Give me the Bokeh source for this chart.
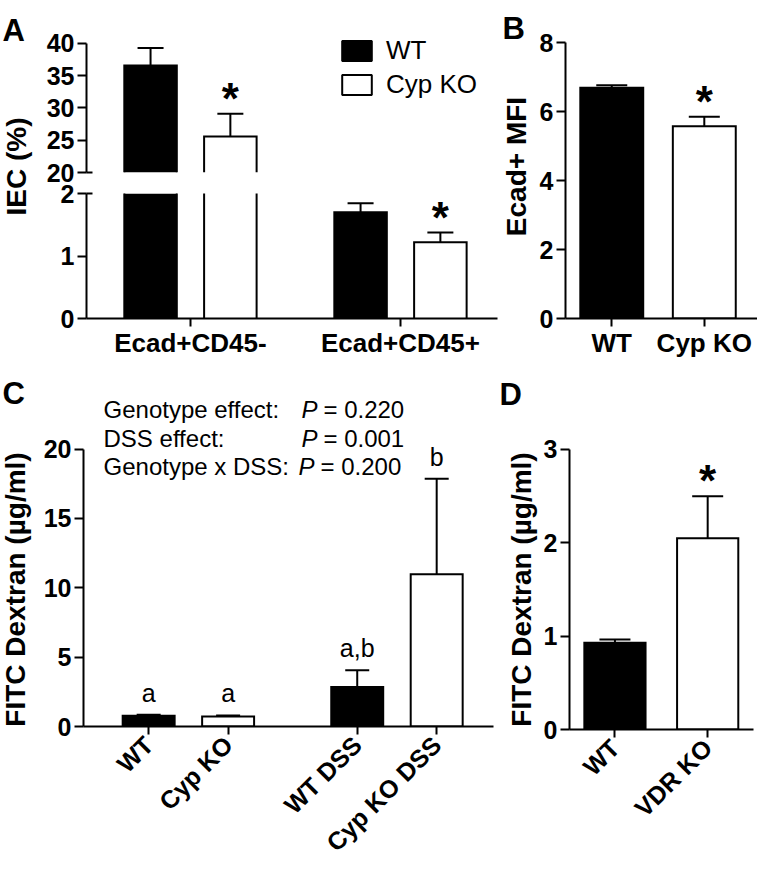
import math
from bokeh.plotting import figure
from bokeh.layouts import row, column
from bokeh.models import (ColumnDataSource, Range1d, FixedTicker, Whisker, TeeHead,
                          Label, LabelSet, Legend, LegendItem)
from bokeh.core.properties import value
from bokeh.embed import file_html
from bokeh.resources import INLINE

FONT = "Liberation Sans"

# ---------------- data ----------------
a_groups = ["Ecad+CD45-", "Ecad+CD45+"]
a_wt_mean = [36.6, 1.70]
a_wt_sem = [2.7, 0.145]
a_ko_mean = [25.6, 1.22]
a_ko_sem = [3.5, 0.155]
a_ko_sig = ["*", "*"]
a_series = ["WT", "Cyp KO"]

b_groups = ["WT", "Cyp KO"]
b_mean = [6.69, 5.57]
b_sem = [0.07, 0.28]
b_sig = ["", "*"]

c_groups = ["WT", "Cyp KO", "WT DSS", "Cyp KO DSS"]
c_mean = [0.77, 0.72, 2.84, 10.97]
c_sem = [0.08, 0.08, 1.21, 6.89]
c_letters = ["a", "a", "a,b", "b"]
c_stats_names = ["Genotype effect:", "DSS effect:", "Genotype x DSS:"]
c_stats_p = ["= 0.220", "= 0.001", "= 0.200"]

d_groups = ["WT", "VDR KO"]
d_mean = [0.93, 2.05]
d_sem = [0.035, 0.45]
d_sig = ["", "*"]

y_label_a = "IEC (%)"
y_label_b = "Ecad+ MFI"
y_label_cd = "FITC Dextran (\u00b5g/ml)"

# ---------------- layout constants ----------------
A_POS = [1, 2]
A_DODGE = 0.19
A_BAR_W = 0.25
B_POS = [1, 2]
B_BAR_W = 0.68
C_POS = [1, 2, 3.625, 4.625]
C_BAR_W = 0.654
D_POS = [1, 2]
D_BAR_W = 0.66


def hi(means, sems):
    return [m + s for m, s in zip(means, sems)]


def base_fig(width, height, x_range, y_range, left, right, top, bottom,
             x_axis=True, y_axis=True):
    p = figure(width=width, height=height, x_range=x_range, y_range=y_range,
               output_backend="svg", toolbar_location=None,
               x_axis_location="below" if x_axis else None,
               y_axis_location="left" if y_axis else None,
               min_border_left=left, min_border_right=right,
               min_border_top=top, min_border_bottom=bottom)
    p.outline_line_color = None
    p.grid.visible = False
    p.background_fill_color = "white"
    p.border_fill_color = "white"
    for ax in p.axis:
        ax.axis_line_width = 2
        ax.axis_line_color = "black"
        ax.major_tick_line_width = 2
        ax.major_tick_line_color = "black"
        ax.major_tick_in = 0
        ax.minor_tick_line_color = None
        ax.major_label_text_font = FONT
        ax.major_label_text_font_style = "bold"
        ax.major_label_text_color = "black"
    return p


def lab_fig(width, height):
    """Figure whose frame is the whole canvas: data units are pixels from bottom-left."""
    p = figure(width=width, height=height, x_range=Range1d(0, width),
               y_range=Range1d(0, height), output_backend="svg", title=None,
               toolbar_location=None, x_axis_location=None, y_axis_location=None,
               min_border=0)
    p.outline_line_color = None
    p.grid.visible = False
    p.background_fill_color = "white"
    p.border_fill_color = "white"
    return p


def text_at(p, x, y, text, size, style="bold", angle=0.0, align="left"):
    p.add_layout(Label(x=x, y=y, text=text, angle=angle, text_font=FONT,
                       text_font_size=size, text_font_style=style, text_color="black",
                       text_align=align, text_baseline="alphabetic"))


def style_y(p, ticks, bounds, break_at=None):
    ax = p.yaxis[0]
    ax.ticker = FixedTicker(ticks=ticks, minor_ticks=[break_at] if break_at is not None else [])
    ax.bounds = bounds
    ax.major_tick_out = 9
    ax.major_label_standoff = 3
    ax.major_label_text_font_size = "25px"
    if break_at is not None:
        # axis-break mark: the tick at the break crosses the axis line
        ax.minor_tick_line_color = "black"
        ax.minor_tick_line_width = 2
        ax.minor_tick_in = 6
        ax.minor_tick_out = 0


def style_x(p, pos, names, size="26px", angle=None, standoff=1):
    ax = p.xaxis[0]
    ax.ticker = FixedTicker(ticks=pos)
    ax.major_label_overrides = {k: v for k, v in zip(pos, names)}
    ax.major_tick_out = 8
    ax.major_label_standoff = standoff
    ax.major_label_text_font_size = size
    if angle is not None:
        ax.major_label_orientation = angle


def bars(p, x, top, color, width):
    return p.vbar(x=x, top=top, bottom=0, width=width, fill_color=color,
                  line_color="black", line_width=2, line_join="miter")


def broken_bars(p, xs, vals, color, width, lo, top_lim):
    """Bars of one segment of a broken axis: open at the break side."""
    keep = [i for i, v in enumerate(vals) if v >= lo]
    p.vbar(x=[xs[i] for i in keep], top=[vals[i] for i in keep], bottom=lo,
           width=width, fill_color=color, line_color=None)
    oxs, oys = [], []
    for i in keep:
        x0, x1, v = xs[i] - width / 2, xs[i] + width / 2, vals[i]
        if v <= top_lim:
            oxs.append([x0, x0, x1, x1])
            oys.append([lo, v, v, lo])
        else:
            oxs += [[x0, x0], [x1, x1]]
            oys += [[lo, v], [lo, v]]
    p.multi_line(xs=oxs, ys=oys, line_color="black", line_width=2, line_join="miter")


def whiskers(p, x, lo, up, cap):
    src = ColumnDataSource(dict(x=x, lo=lo, up=up))
    p.add_layout(Whisker(source=src, base="x", lower="lo", upper="up",
                         dimension="height", line_color="black", line_width=2,
                         lower_head=None,
                         upper_head=TeeHead(size=cap, line_color="black", line_width=2)))


def marks(p, x, y, texts, size, style, offset):
    src = ColumnDataSource(dict(x=x, y=y, t=texts))
    p.add_layout(LabelSet(source=src, x="x", y="y", text="t", text_align="center",
                          text_baseline="alphabetic", y_offset=offset,
                          text_font=value(FONT), text_font_size=size,
                          text_font_style=style, text_color="black"))


# ---------------- panel A (broken axis) ----------------
a_x = Range1d(0.505, 2.462)
a_wt_x = [g - A_DODGE for g in A_POS]
a_ko_x = [g + A_DODGE for g in A_POS]
a_wt_hi = hi(a_wt_mean, a_wt_sem)
a_ko_hi = hi(a_ko_mean, a_ko_sem)

a_up = base_fig(464, 182, a_x, Range1d(20, 40.93), 52, 1, 37, 10, x_axis=False)
style_y(a_up, [20, 25, 30, 35, 40], (20, 40), break_at=20)
a_low = base_fig(464, 178, a_x, Range1d(0, 2), 52, 1, 11, 38)
style_y(a_low, [0, 1, 2], (0, 2), break_at=2)
style_x(a_low, A_POS, a_groups)

for fig, (lo_lim, top_lim) in ((a_up, (20, 40)), (a_low, (0, 2))):
    broken_bars(fig, a_wt_x, a_wt_mean, "black", A_BAR_W, lo_lim, top_lim)
    broken_bars(fig, a_ko_x, a_ko_mean, "white", A_BAR_W, lo_lim, top_lim)
    idx = [i for i in range(len(A_POS)) if lo_lim <= a_wt_mean[i] <= top_lim]
    whiskers(fig, [a_wt_x[i] for i in idx], [a_wt_mean[i] for i in idx],
             [a_wt_hi[i] for i in idx], 26)
    idk = [i for i in range(len(A_POS)) if lo_lim <= a_ko_mean[i] <= top_lim]
    whiskers(fig, [a_ko_x[i] for i in idk], [a_ko_mean[i] for i in idk],
             [a_ko_hi[i] for i in idk], 26)
    marks(fig, [a_ko_x[i] for i in idk], [a_ko_hi[i] for i in idk],
          [a_ko_sig[i] for i in idk], "44px", "bold", 0)

# legend swatches: hidden renderers that only carry the series styles
r_wt = a_up.vbar(x=A_POS[:1], top=a_wt_mean[:1], width=A_BAR_W, fill_color="black",
                 line_color="black", line_width=2, visible=False)
r_ko = a_up.vbar(x=A_POS[:1], top=a_ko_mean[:1], width=A_BAR_W, fill_color="white",
                 line_color="black", line_width=2, visible=False)
leg = Legend(items=[LegendItem(label=a_series[0], renderers=[r_wt]),
                    LegendItem(label=a_series[1], renderers=[r_ko])],
             location=(252, 72), glyph_width=37, glyph_height=25, label_standoff=11,
             spacing=3, padding=0, margin=0, border_line_color=None,
             background_fill_alpha=0, inactive_fill_alpha=0, label_text_font=FONT,
             label_text_font_size="26px", label_text_color="black")
a_up.add_layout(leg)

a_lab = lab_fig(34, 360)
text_at(a_lab, 2, 330, "A", "31px")
text_at(a_lab, 16, 194, y_label_a, "28px", angle=math.pi / 2, align="center")

# ---------------- panel B ----------------
b_lab = lab_fig(38, 360)
text_at(b_lab, 4, 332, "B", "31px")
text_at(b_lab, 18, 194, y_label_b, "28px", angle=math.pi / 2, align="center")

p_b = base_fig(221, 360, Range1d(0.5, 2.575), Range1d(0, 8), 28, 0, 42, 38)
style_y(p_b, [0, 2, 4, 6, 8], (0, 8))
style_x(p_b, B_POS, b_groups)
b_hi = hi(b_mean, b_sem)
bars(p_b, B_POS, b_mean, ["black", "white"], B_BAR_W)
whiskers(p_b, B_POS, b_mean, b_hi, 31)
marks(p_b, B_POS, b_hi, b_sig, "44px", "bold", 0)

# ---------------- panel C ----------------
c_lab = lab_fig(34, 509)
text_at(c_lab, 2, 476, "C", "31px")
text_at(c_lab, 15, 280, y_label_cd, "28px", angle=math.pi / 2, align="center")

p_c = base_fig(464, 509, Range1d(0.18, 5.34), Range1d(0, 23.93), 49, 5, 34, 140)
style_y(p_c, [0, 5, 10, 15, 20], (0, 20))
style_x(p_c, C_POS, c_groups, size="25px", angle=math.pi / 4, standoff=6)
c_hi = hi(c_mean, c_sem)
bars(p_c, C_POS, c_mean, ["black", "white", "black", "white"], C_BAR_W)
whiskers(p_c, C_POS, c_mean, c_hi, 24)
marks(p_c, C_POS, c_hi, c_letters, "25px", "normal", 13)

stat_y = [22.86, 20.79, 18.71]
stat_px = [2.923, 2.923, 2.886]
for name, pv, yy, px in zip(c_stats_names, c_stats_p, stat_y, stat_px):
    p_c.add_layout(Label(x=0.432, y=yy, text=name, text_font=FONT, text_font_size="24px",
                         text_align="left", text_baseline="middle", text_color="black"))
    p_c.add_layout(Label(x=px, y=yy, text="P", text_font=FONT, text_font_size="24px",
                         text_font_style="italic", text_align="left",
                         text_baseline="middle", text_color="black"))
    p_c.add_layout(Label(x=px, y=yy, x_offset=22, text=pv, text_font=FONT,
                         text_font_size="24px", text_align="left",
                         text_baseline="middle", text_color="black"))

# ---------------- panel D ----------------
d_lab = lab_fig(42, 509)
text_at(d_lab, 1, 475, "D", "31px")
text_at(d_lab, 23, 280, y_label_cd, "28px", angle=math.pi / 2, align="center")

p_d = base_fig(217, 509, Range1d(0.51, 2.494), Range1d(0, 3.589), 27, 4, 34, 140)
style_y(p_d, [0, 1, 2, 3], (0, 3))
style_x(p_d, D_POS, d_groups, size="25px", angle=math.pi / 4, standoff=6)
d_hi = hi(d_mean, d_sem)
bars(p_d, D_POS, d_mean, ["black", "white"], D_BAR_W)
whiskers(p_d, D_POS, d_mean, d_hi, 31)
marks(p_d, D_POS, d_hi, d_sig, "44px", "bold", 0)

layout = column(
    row(column(a_lab), column(a_up, a_low), column(b_lab), column(p_b)),
    row(column(c_lab), column(p_c), column(d_lab), column(p_d)),
)

with open("out.html", "w") as f:
    f.write(file_html(layout, INLINE, "Figure"))
